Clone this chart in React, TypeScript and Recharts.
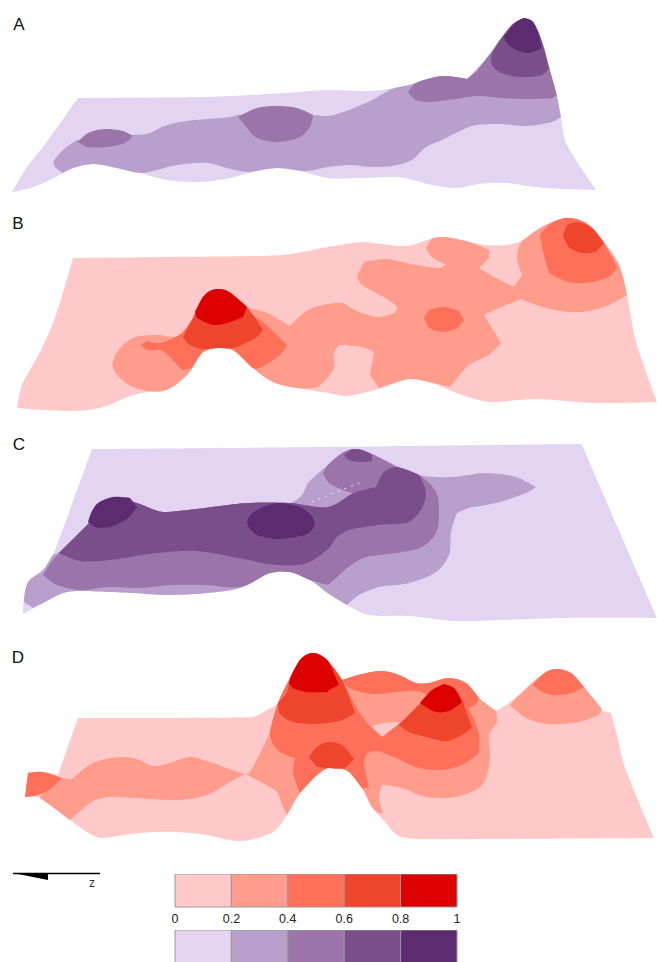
import { Area, Bar, BarChart, ComposedChart, Line, ReferenceDot, XAxis, YAxis } from 'recharts';

type Pt = [number, number];

const lilac = ['#E3D4F1', '#B9A0CC', '#9B74A9', '#7A4E8B', '#5C2B70'];
const salmon = ['#FFC9C9', '#FF9C8C', '#FF705A', '#EF452C', '#DD0000'];

// contour outlines, in picture pixels
const aSurface: Pt[] = [[78,98],[207,97],[287,93],[328,90],[372,91],[409,85],[442,76],[467,79],[476,70],[490,54],[502,37],[513,24],[524,18],[532,21],[538,31],[542,42],[549,67],[557,97],[561,117],[566,143],[596,190],[562,189],[536,187],[506,183],[479,184],[456,188],[432,185],[399,177],[362,178],[328,178],[303,172],[277,168],[253,172],[230,178],[200,182],[167,180],[140,173],[117,168],[93,164],[73,168],[50,180],[30,188],[12,192],[27,167],[43,147]];
const aLevel2: Pt[] = [[53,162],[63,150],[78,140],[133,135],[147,134],[167,125],[187,121],[230,117],[238,115],[313,115],[328,116],[349,110],[372,100],[392,89],[409,85],[442,76],[467,79],[476,70],[490,54],[502,37],[524,18],[542,42],[549,67],[557,97],[561,117],[552,122],[526,126],[502,124],[476,125],[462,130],[442,140],[426,147],[412,160],[392,166],[372,167],[349,165],[328,167],[307,171],[277,168],[247,172],[227,168],[208,163],[177,165],[142,173],[117,168],[93,164],[73,168],[63,173],[55,167]];
const aBlobLeft: Pt[] = [[78,142],[88,133],[105,129],[123,131],[133,136],[125,143],[107,147],[87,147]];
const aBlobMid: Pt[] = [[238,117],[257,108],[275,106],[297,108],[313,115],[310,127],[300,137],[277,142],[257,138],[247,128]];
const aPeak3: Pt[] = [[408,92],[416,83],[442,76],[467,79],[476,72],[490,54],[502,37],[513,24],[524,18],[532,21],[538,31],[542,42],[549,67],[557,95],[552,98],[526,99],[502,98],[476,96],[456,99],[429,102],[416,100]];
const aPeak4: Pt[] = [[491,57],[501,39],[513,24],[524,18],[532,21],[538,31],[542,42],[549,68],[542,75],[519,77],[499,72],[492,65]];
const aPeak5: Pt[] = [[504,37],[516,22],[524,18],[532,21],[537,30],[542,48],[529,53],[516,50],[507,43]];

const bSurface: Pt[] = [[73,258],[167,257],[283,255],[328,247],[362,242],[406,246],[442,237],[486,245],[516,243],[542,227],[566,218],[586,223],[602,240],[619,265],[627,295],[636,342],[657,402],[596,403],[536,399],[489,402],[462,395],[429,382],[409,379],[379,389],[346,396],[328,393],[297,388],[273,382],[253,368],[233,350],[217,348],[203,352],[187,375],[167,388],[133,395],[100,408],[67,411],[17,408],[22,385],[40,352],[55,318]];
const bLevel2: Pt[] = [[112,365],[117,352],[133,338],[157,335],[175,337],[183,332],[193,318],[217,289],[247,307],[267,313],[290,326],[308,310],[328,304],[342,303],[359,312],[379,317],[394,313],[398,308],[389,300],[362,285],[357,277],[364,262],[386,259],[416,265],[439,268],[446,265],[432,257],[426,248],[432,238],[444,237],[469,242],[489,250],[489,258],[479,268],[496,278],[514,287],[522,275],[517,258],[521,243],[542,227],[566,218],[586,223],[602,240],[619,265],[627,295],[609,305],[589,311],[569,312],[542,307],[521,299],[499,308],[484,315],[492,328],[501,343],[489,355],[469,365],[450,387],[429,382],[409,379],[379,388],[370,375],[374,352],[362,347],[339,345],[334,352],[334,368],[328,377],[317,387],[297,388],[273,382],[253,368],[233,350],[217,348],[203,352],[187,375],[163,391],[133,387],[117,375]];
const bPeak3: Pt[] = [[141,345],[147,341],[160,343],[175,337],[183,332],[193,318],[203,297],[210,291],[217,289],[225,290],[232,294],[247,312],[263,322],[287,345],[280,355],[260,368],[253,368],[233,350],[217,348],[203,352],[192,368],[182,370],[168,355],[160,350],[147,350]];
const bPeak4: Pt[] = [[183,337],[193,318],[203,297],[210,291],[217,289],[225,290],[232,294],[247,307],[263,330],[257,337],[233,348],[217,348],[203,349],[190,345]];
const bPeak5: Pt[] = [[195,312],[203,297],[210,291],[217,289],[225,290],[232,294],[247,307],[243,317],[227,323],[213,325],[197,318]];
const bBlob: Pt[] = [[424,318],[429,310],[444,307],[459,311],[464,320],[457,328],[442,332],[429,328]];
const bRight3: Pt[] = [[540,235],[549,225],[566,218],[586,223],[602,240],[617,267],[612,275],[592,282],[569,282],[549,273],[544,255]];
const bRight4: Pt[] = [[563,235],[567,225],[577,222],[592,228],[604,243],[596,252],[582,253],[569,247]];

const cSurface: Pt[] = [[92,449],[328,447],[579,444],[582,445],[657,618],[562,618],[456,621],[409,616],[369,615],[347,605],[329,594],[310,580],[290,572],[270,573],[240,588],[207,593],[167,595],[133,593],[77,591],[63,593],[43,603],[23,614],[24,598],[28,582],[43,570],[53,555]];
const cLevel2: Pt[] = [[24,602],[28,582],[43,570],[53,555],[58,553],[90,522],[113,497],[137,503],[163,512],[247,503],[290,503],[302,495],[308,483],[328,465],[344,452],[357,449],[372,454],[419,475],[452,477],[486,473],[516,477],[536,487],[526,493],[496,503],[469,508],[457,513],[451,532],[449,555],[436,572],[409,583],[379,587],[359,595],[347,605],[329,594],[310,580],[290,572],[270,573],[240,588],[207,593],[167,595],[133,593],[77,591],[63,593],[43,603],[33,608]];
const cLevel3: Pt[] = [[43,575],[53,560],[90,522],[113,497],[137,503],[163,512],[247,503],[290,503],[328,507],[354,493],[376,487],[384,472],[396,467],[419,475],[436,492],[439,512],[436,533],[422,547],[396,553],[366,557],[351,565],[336,578],[328,585],[310,580],[290,572],[270,573],[240,587],[207,585],[170,585],[140,588],[110,587],[80,590],[57,585]];
const cHump3: Pt[] = [[323,473],[328,465],[344,452],[357,449],[372,454],[396,467],[410,480],[390,500],[352,493],[329,483]];
const cHump4: Pt[] = [[344,455],[352,449],[362,450],[372,455],[372,461],[359,462],[349,460]];
const cLevel4: Pt[] = [[59,553],[90,522],[113,497],[137,503],[163,512],[247,503],[290,503],[328,507],[354,493],[376,487],[384,472],[396,467],[419,475],[426,492],[422,508],[409,522],[379,525],[349,530],[337,537],[329,548],[307,563],[277,565],[233,557],[197,551],[157,553],[110,560],[80,561]];
const cBlobLeft: Pt[] = [[88,522],[92,511],[98,503],[113,497],[130,498],[137,507],[128,518],[110,527],[95,527]];
const cBlobMid: Pt[] = [[247,522],[250,515],[257,510],[277,503],[300,507],[311,515],[315,523],[312,530],[305,535],[277,539],[257,535],[250,529]];
const cSeam: Pt[] = [[312,502],[329,495],[362,482]];

const dSurface: Pt[] = [[78,718],[253,717],[267,710],[278,703],[290,678],[300,660],[306,655],[313,653],[320,655],[328,661],[342,680],[362,674],[382,671],[399,675],[416,683],[429,683],[449,678],[466,683],[479,698],[496,711],[509,703],[532,683],[546,672],[557,669],[571,673],[584,687],[602,710],[611,713],[617,735],[624,765],[654,838],[492,839],[416,839],[397,835],[386,823],[372,807],[362,788],[349,772],[339,768],[328,768],[317,775],[300,793],[287,815],[273,832],[240,841],[207,835],[177,832],[140,833],[100,838],[87,832],[70,820],[50,805],[35,796],[25,797],[28,773],[43,772],[58,775]];
const dLevel2: Pt[] = [[43,792],[62,778],[72,779],[93,763],[120,757],[137,759],[153,766],[170,763],[190,757],[210,762],[245,774],[250,772],[270,732],[278,703],[290,678],[300,660],[306,655],[313,653],[320,655],[328,661],[342,680],[362,674],[382,671],[399,675],[416,683],[429,683],[449,678],[466,683],[479,698],[496,711],[497,722],[489,735],[490,758],[486,778],[479,788],[456,797],[426,797],[402,788],[382,785],[379,798],[383,813],[379,813],[372,807],[362,788],[349,772],[339,768],[328,768],[317,775],[300,793],[287,815],[282,805],[277,792],[253,778],[245,774],[230,782],[207,795],[180,800],[133,798],[110,797],[93,801],[70,820],[50,805],[40,798]];
const dNotch: Pt[] = [[372,726],[384,723],[401,722],[392,732],[383,737],[377,732]];
const dCorner3: Pt[] = [[28,773],[43,772],[62,778],[53,787],[43,793],[35,796],[25,797]];
const dRidge3: Pt[] = [[342,680],[362,674],[382,671],[399,675],[416,683],[429,683],[449,678],[466,683],[479,698],[475,705],[460,712],[440,700],[416,691],[396,692],[372,694],[349,688]];
const dMain3: Pt[] = [[278,703],[290,678],[300,660],[306,655],[313,653],[320,655],[328,661],[342,680],[356,707],[369,725],[382,737],[401,722],[421,703],[444,684],[454,688],[462,700],[472,715],[479,735],[479,753],[462,765],[439,770],[416,767],[396,758],[377,751],[367,753],[364,762],[369,788],[362,788],[349,772],[339,768],[328,768],[317,775],[300,793],[293,772],[295,758],[280,752],[272,742],[270,732]];
const dPeak4: Pt[] = [[279,713],[278,703],[287,692],[290,678],[300,660],[306,655],[313,653],[320,655],[328,661],[342,680],[355,713],[342,720],[328,723],[310,724],[290,721]];
const dPeak5: Pt[] = [[289,683],[293,672],[300,660],[306,655],[313,653],[320,655],[328,661],[339,685],[329,690],[328,692],[307,692],[293,688]];
const dBlob4: Pt[] = [[309,757],[317,747],[328,742],[342,745],[354,759],[344,768],[328,768],[317,767]];
const dFront4: Pt[] = [[399,725],[421,703],[444,684],[454,688],[462,700],[472,728],[462,735],[446,741],[426,737],[409,732]];
const dFront5: Pt[] = [[420,703],[432,690],[444,684],[454,688],[462,702],[449,711],[436,712],[426,707]];
const dBump2: Pt[] = [[510,705],[532,683],[546,672],[557,669],[571,673],[584,687],[602,709],[599,715],[579,722],[549,724],[526,718]];
const dBump3: Pt[] = [[533,685],[546,672],[557,669],[571,673],[584,687],[572,693],[552,695],[539,690]];

const arrowHead: Pt[] = [[13,873],[48,873],[48,880]];
const arrowShaft: Pt[] = [[13,873.5],[100,873.5]];

const layers: [Pt[], string][] = [
  [aSurface, lilac[0]], [aLevel2, lilac[1]], [aBlobLeft, lilac[2]], [aBlobMid, lilac[2]], [aPeak3, lilac[2]], [aPeak4, lilac[3]], [aPeak5, lilac[4]],
  [bSurface, salmon[0]], [bLevel2, salmon[1]], [bPeak3, salmon[2]], [bPeak4, salmon[3]], [bPeak5, salmon[4]], [bBlob, salmon[2]], [bRight3, salmon[2]], [bRight4, salmon[3]],
  [cSurface, lilac[0]], [cLevel2, lilac[1]], [cLevel3, lilac[2]], [cHump3, lilac[2]], [cHump4, lilac[3]], [cLevel4, lilac[3]], [cBlobLeft, lilac[4]], [cBlobMid, lilac[4]],
  [dSurface, salmon[0]], [dBump2, salmon[1]], [dBump3, salmon[2]], [dLevel2, salmon[1]], [dNotch, salmon[0]], [dCorner3, salmon[2]], [dRidge3, salmon[2]], [dMain3, salmon[2]], [dPeak4, salmon[3]], [dPeak5, salmon[4]], [dBlob4, salmon[3]], [dFront4, salmon[3]], [dFront5, salmon[4]],
];

const panelLabels = [
  { text: 'A', x: 19, y: 24 },
  { text: 'B', x: 18, y: 223 },
  { text: 'C', x: 19, y: 444 },
  { text: 'D', x: 18, y: 657 },
];

const legendTicks = [0, 0.2, 0.4, 0.6, 0.8, 1];
const legendBand = [{ name: 'scale', s1: 0.2, s2: 0.2, s3: 0.2, s4: 0.2, s5: 0.2 }];
const bandKeys = ['s1', 's2', 's3', 's4', 's5'];

const font = '"Liberation Sans", Arial, sans-serif';

// closing the ring makes the area's way back along the baseline enclose nothing
const ring = (pts: Pt[]) => [...pts, pts[0]].map(([x, y]) => ({ x, y }));
const path = (pts: Pt[]) => pts.map(([x, y]) => ({ x, y }));

// d3-style curve for a closed ring: round through the points, keep the real corners
const CORNER_COS = Math.cos((42 * Math.PI) / 180);
function softRing(ctx: any) {
  let buf: Pt[] = [];
  let lineNo = 0;
  return {
    areaStart() { lineNo = 0; },
    areaEnd() { ctx.closePath(); },
    lineStart() { buf = []; },
    point(x: number, y: number) { buf.push([x, y]); },
    lineEnd() {
      if (lineNo === 1) {
        buf.forEach(([x, y]) => ctx.lineTo(x, y));
      } else {
        const n = buf.length - 1;
        // handle length follows the shorter neighbour so long edges stay straight
        const tan = buf.slice(0, n).map((p, i) => {
          const a = buf[(i + n - 1) % n];
          const b = buf[i + 1];
          const la = Math.hypot(p[0] - a[0], p[1] - a[1]) || 1;
          const lb = Math.hypot(b[0] - p[0], b[1] - p[1]) || 1;
          const ux = (p[0] - a[0]) / la, uy = (p[1] - a[1]) / la;
          const vx = (b[0] - p[0]) / lb, vy = (b[1] - p[1]) / lb;
          if (ux * vx + uy * vy < CORNER_COS) return [0, 0];
          const tx = ux + vx, ty = uy + vy;
          const l = Math.hypot(tx, ty) || 1;
          const h = Math.min(la, lb) / 3;
          return [(tx / l) * h, (ty / l) * h];
        });
        ctx.moveTo(buf[0][0], buf[0][1]);
        for (let i = 0; i < n; i++) {
          const p = buf[i], q = buf[i + 1];
          const t0 = tan[i], t1 = tan[(i + 1) % n];
          ctx.bezierCurveTo(p[0] + t0[0], p[1] + t0[1], q[0] - t1[0], q[1] - t1[1], q[0], q[1]);
        }
      }
      lineNo += 1;
    },
  };
}

function ScaleBar({ colors, top, height, showTicks }: { colors: string[]; top: number; height: number; showTicks: boolean }) {
  return (
    <div style={{ position: 'absolute', left: 155, top }}>
      <BarChart
        width={322}
        height={height}
        data={legendBand}
        layout="vertical"
        barCategoryGap={0}
        margin={{ top: 0, right: 20, bottom: 0, left: 20 }}
      >
        <XAxis
          type="number"
          domain={[0, 1]}
          ticks={legendTicks}
          interval={0}
          hide={!showTicks}
          axisLine={false}
          tickLine={false}
          height={22}
          tickMargin={1}
          tick={{ fontSize: 12.5, fill: '#222', fontFamily: font }}
        />
        <YAxis type="category" dataKey="name" hide />
        {bandKeys.map((k, i) => (
          <Bar key={k} dataKey={k} stackId="scale" fill={colors[i]} stroke="#999" strokeWidth={1} isAnimationActive={false} />
        ))}
      </BarChart>
    </div>
  );
}

export default function App() {
  return (
    <div style={{ position: 'absolute', left: 0, top: 0, width: 658, height: 962, overflow: 'hidden', background: '#fff' }}>
      <ComposedChart width={658} height={962} margin={{ top: 0, right: 0, bottom: 0, left: 0 }}>
        <XAxis type="number" dataKey="x" domain={[0, 658]} hide />
        <YAxis type="number" dataKey="y" domain={[0, 962]} reversed hide />
        {layers.map(([pts, color], i) => (
          <Area
            key={i}
            data={ring(pts)}
            dataKey="y"
            type={softRing as any}
            stroke="none"
            fill={color}
            fillOpacity={1}
            dot={false}
            activeDot={false}
            isAnimationActive={false}
          />
        ))}
        <Area data={ring(arrowHead)} dataKey="y" type="linear" stroke="none" fill="#000" fillOpacity={1} dot={false} activeDot={false} isAnimationActive={false} />
        <Line data={path(cSeam)} dataKey="y" type="linear" stroke="#EFE6F7" strokeWidth={1} strokeDasharray="2 5" dot={false} activeDot={false} isAnimationActive={false} />
        <Line data={path(arrowShaft)} dataKey="y" type="linear" stroke="#000" strokeWidth={1.5} dot={false} activeDot={false} isAnimationActive={false} />
        {panelLabels.map((l) => (
          <ReferenceDot
            key={l.text}
            x={l.x}
            y={l.y}
            r={0}
            stroke="none"
            label={{ value: l.text, position: 'center', fontSize: 17, fill: '#111', fontFamily: font }}
          />
        ))}
        <ReferenceDot x={92} y={883} r={0} stroke="none" label={{ value: 'z', position: 'center', fontSize: 12, fill: '#333', fontFamily: font }} />
      </ComposedChart>
      <ScaleBar colors={salmon} top={874} height={55} showTicks />
      <ScaleBar colors={lilac} top={930} height={40} showTicks={false} />
    </div>
  );
}
